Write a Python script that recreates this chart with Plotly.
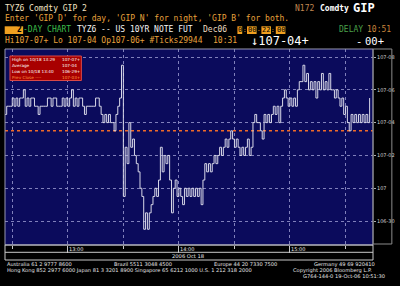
import pandas as pd
import plotly.graph_objects as go

# ---------------- data ----------------
START = "2006-10-18 12:26"          # first one-minute bar
# last price of each minute, in 32nds above 107-00 (12:26 .. 15:43)
PRICE_32 = [
    4.5, 5, 5, 5, 5.5, 5, 5.5, 5, 5.5, 5.5,          # 12:26-12:35
    6, 5, 5.5, 5, 5.5, 5.5, 5, 5, 4.5, 5,            # 12:36-12:45
    5, 5, 5, 5.5, 5.5, 5, 5.5, 5.5, 5, 5,            # 12:46-12:55
    5, 5.5, 5, 5.5, 5, 5.5, 6, 5, 5.5, 5,            # 12:56-13:05
    5.5, 5.5, 5, 4.5, 5, 5, 5, 5, 5, 5.5,            # 13:06-13:15
    5.5, 5, 4.5, 4, 4.5, 4, 4.5, 4, 4, 3.5,          # 13:16-13:25
    4.5, 5, 5.5, 7.5, -0.5, 2.5, 1.5, 4, 2.5, 3,     # 13:26-13:35
    2, 1.5, 1, 0, -0.5, -2.5, -1.5, -2.5, -1.5, -1,  # 13:36-13:45
    -0.5, 0, -0.5, 0.5, 2.5, 1, 2, 1.5, 2, 0.5,      # 13:46-13:55
    -1.5, 0, 0.5, -0.5, 0, -0.5, -1, 0, -0.5, 0,     # 13:56-14:05
    -0.5, 0, -0.5, 0, -0.5, 0, -1, 0.5, 1.5, 1,      # 14:06-14:15
    1.5, 1, 1.5, 2, 1.5, 2, 2.5, 2, 2.5, 3,          # 14:16-14:25
    2.5, 3, 3.5, 3, 2.5, 3, 2.5, 2, 2.5, 2,          # 14:26-14:35
    2.5, 3, 2, 2.5, 4, 4.5, 4, 4, 3.5, 3,            # 14:36-14:45
    4.5, 4, 4.5, 4, 4.5, 5, 4.5, 5, 4, 5,            # 14:46-14:55
    5.5, 6, 5.5, 5, 5.5, 5, 5.5, 5, 6, 6.5,          # 14:56-15:05
    6.5, 7.5, 6.5, 7, 6, 6.5, 6, 6.5, 5.5, 6.5,      # 15:06-15:15
    6, 7, 6, 6.5, 6, 7, 6, 6, 5.5, 6,                # 15:16-15:25
    5.5, 5, 5.5, 4.5, 5, 4, 3.5, 4.5, 4, 4.5,        # 15:26-15:35
    4, 4.5, 4, 4.5, 4, 4.5, 4, 5.5,                  # 15:36-15:43
]
PREV_CLOSE_32 = 3.5
Y_TICKS = [-2, 0, 2, 4, 6, 8]
Y_LABELS = ["106-30", "107", "107-02", "107-04", "107-06", "107-08"]
HOUR_TIMES = ["2006-10-18 13:00", "2006-10-18 14:00", "2006-10-18 15:00"]
HOUR_LABELS = ["13:00", "14:00", "15:00"]
DATE_LABEL = "2006 Oct 18"
LEGEND_ROWS = [("High on 10/18 13:29", "107-07+"),
               ("Average", "107-04"),
               ("Low on 10/18 13:40", "106-29+"),
               ("Prev Close ----", "107-03+")]

times = pd.date_range(START, periods=len(PRICE_32), freq="1min")

# ---------------- geometry / style ----------------
W, H = 400, 286
PL, PR, PT, PB = 5, 376, 49, 245
MONO = "DejaVu Sans Mono"
SANS = "DejaVu Sans"
ORANGE = "#e8a23c"
BOXOR = "#f0a020"
GRID = "#8080bb"


def px(x):
    return (x - PL) / (PR - PL)


def py(y):
    return (PB - y) / (PB - PT)


annotations = []


def txt(s, x, y, color, size, font=MONO, anchor="left", bold=False):
    annotations.append(dict(
        text=s, x=px(x), y=py(y), xref="paper", yref="paper",
        xanchor=anchor, yanchor="middle", showarrow=False,
        borderpad=0, borderwidth=0,
        font=dict(family=font, size=size, color=color,
                  weight="bold" if bold else "normal")))


shapes = []


def rect(x0, y0, x1, y1, fill=None, line=None, lw=1):
    shapes.append(dict(type="rect", xref="paper", yref="paper",
                       x0=px(x0), x1=px(x1), y0=py(y1), y1=py(y0),
                       fillcolor=fill or "rgba(0,0,0,0)",
                       line=dict(color=line or "rgba(0,0,0,0)", width=lw if line else 0),
                       layer="above"))


def hline(x0, x1, y, color, lw=1):
    shapes.append(dict(type="line", xref="paper", yref="paper",
                       x0=px(x0), x1=px(x1), y0=py(y), y1=py(y),
                       line=dict(color=color, width=lw)))


fig = go.Figure()
fig.add_trace(go.Scatter(x=times, y=PRICE_32, mode="lines",
                         line=dict(color="#d8d8e8", width=1, shape="hv"),
                         hoverinfo="skip"))

# previous close line
shapes.append(dict(type="line", xref="paper", yref="y", x0=0, x1=1,
                   y0=PREV_CLOSE_32, y1=PREV_CLOSE_32, layer="between",
                   line=dict(color="#f06a28", width=1.5, dash="dot")))

# borders
rect(PL, PT, PR, PB, line="#9898b0")
rect(PR, PT, 395, 244, line="#8c8c8c")
rect(PL, PB, PR, 260, line="#c8c8c8")
hline(PL, PR, 252.3, "#c8c8c8")

# legend box
rect(10, 56, 82, 80.5, fill="#a80000", line="#d84848")
for i, (lab, val) in enumerate(LEGEND_ROWS):
    yy = 59.3 + i * 6.1
    col = "#ff9a40" if lab.startswith("Prev") else "#ffffff"
    txt(lab, 12, yy, col, 4.2, font=SANS)
    txt(val, 62, yy, col, 4.2, font=SANS)

# hour labels and date
for t, lab in zip(HOUR_TIMES, HOUR_LABELS):
    annotations.append(dict(text=lab, x=t, xref="x", y=py(248.9), yref="paper",
                            xanchor="left", yanchor="middle", xshift=1.5,
                            showarrow=False, borderpad=0, borderwidth=0,
                            font=dict(family=SANS, size=5.0, color="#e8e8e8")))
txt(DATE_LABEL, 189, 256.3, "#e8e8e8", 5.2, font=SANS, anchor="center")

# header
FS = 8
L3 = 29.8
txt("TYZ6 Comdty GIP 2", 4.5, 8.5, "#f3e4c4", FS)
txt("N172", 297.5, 8.5, "#c08850", FS)
txt("Comdty", 322.5, 8.5, "#ffffff", FS, bold=True)
txt("GIP", 356, 8.0, "#ffffff", 12, bold=True)
txt("Enter 'GIP D' for day, 'GIP N' for night, 'GIP B' for both.", 4.5, 19, ORANGE, FS)

rect(4.7, 26.3, 23.3, 34.0, fill=BOXOR)
txt("2", 17.5, L3, "#000000", FS, bold=True)
txt("-DAY CHART", 23.3, L3, "#3cbc4a", FS)
txt("TYZ6 -- US 10YR NOTE FUT", 78, L3, "#f4f4f4", FS)
txt("Dec06", 205, L3, "#eadcc0", FS)
cw = 4.84
x0t = 239.3
for seg, a, boxed in [("0", 0, True), (":", 1, False), ("00", 2, True), ("-", 4, False),
                      ("22", 5, True), (":", 7, False), ("00", 8, True)]:
    xa = x0t + a * cw
    xb = x0t + (a + len(seg)) * cw
    if boxed:
        rect(xa, 26.3, xb, 34.0, fill=BOXOR)
    txt(seg, (xa + xb) / 2, L3, "#000000" if boxed else BOXOR,
        7.0 if boxed else 6.0, anchor="center")
txt("DELAY", 342, L3, "#4aa04a", FS)
txt("10:51", 370, L3, "#c8863c", FS)

txt("Hi107-07+ Lo 107-04 Op107-06+ #Ticks29944", 4.5, 40.5, ORANGE, FS)
txt("10:31", 215, 40.5, ORANGE, FS)
txt("\u2193107-04+", 282, 40.8, "#ffffff", 12, anchor="center")
txt("-", 359, 41.2, "#ffffff", 10.5)
txt("00+", 368, 41.2, "#ffffff", 10.5)

# footer
FF = 5.1
FC = "#e4e4e4"
txt("Australia 61 2 9777 8600", 7, 264.0, FC, FF, font=SANS)
txt("Brazil 5511 3048 4500", 115, 264.0, FC, FF, font=SANS)
txt("Europe 44 20 7330 7500", 216, 264.0, FC, FF, font=SANS)
txt("Germany 49 69 920410", 317, 264.0, FC, FF, font=SANS)
txt("Hong Kong 852 2977 6000 Japan 81 3 3201 8900 Singapore 65 6212 1000 U.S. 1 212 318 2000",
    7, 270, FC, FF, font=SANS)
txt("Copyright 2006 Bloomberg L.P.", 295, 270, FC, FF, font=SANS)
txt("G764-144-0 19-Oct-06 10:51:30", 388.5, 276, FC, FF, font=SANS, anchor="right")

fig.update_layout(
    width=W, height=H,
    margin=dict(l=PL, r=W - PR, t=PT, b=H - PB, pad=0),
    paper_bgcolor="#000000", plot_bgcolor="#0b0b5c",
    showlegend=False,
    xaxis=dict(type="date", range=["2006-10-18 12:26:05", "2006-10-18 15:44:50"],
               dtick=3600000, tick0="2006-10-18 13:00", ticks="outside", ticklen=7,
               tickwidth=1, tickcolor="#c8c8c8", showticklabels=False,
               showgrid=True, gridcolor=GRID, griddash="dot", gridwidth=1,
               minor=dict(dtick=1800000, tick0="2006-10-18 12:30", ticks="outside",
                          ticklen=3, tickwidth=1, tickcolor="#c8c8c8", showgrid=True,
                          gridcolor=GRID, griddash="dot", gridwidth=1),
               zeroline=False, showline=False),
    yaxis=dict(range=[-3.46, 8.49], side="right", tickvals=Y_TICKS, ticktext=Y_LABELS,
               ticks="outside", ticklen=2, tickwidth=1, tickcolor="#b0b0b0",
               tickfont=dict(family=SANS, size=5.0, color="#d4d4d4"),
               showgrid=True, gridcolor=GRID, griddash="dot", gridwidth=1,
               zeroline=False, showline=False),
    shapes=shapes, annotations=annotations,
)

fig.write_html("out.html")
